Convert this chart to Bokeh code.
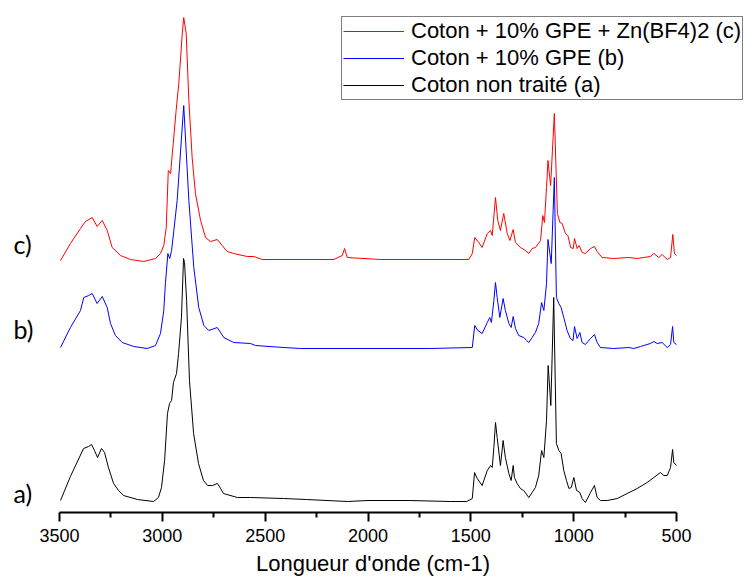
from bokeh.plotting import figure
from bokeh.models import Range1d, FixedTicker, Legend, LegendItem, Label
from bokeh.embed import file_html
from bokeh.resources import INLINE

# ---------------- data (wavenumber cm-1, stacked intensity a.u.) ----------------
wn_a = [3495, 3447, 3383, 3359, 3344, 3330, 3315, 3296, 3281, 3262, 3237, 3213, 3189, 3121,
        3043, 3019, 3004, 2989, 2975, 2965, 2955, 2946, 2931, 2921, 2907, 2897, 2892, 2882,
        2868, 2848, 2824, 2800, 2780, 2756, 2732, 2717, 2703, 2635, 2571, 2411, 2300, 2200,
        2100, 2000, 1800, 1600, 1520,
        1493, 1482, 1469, 1445, 1420, 1404, 1396, 1388, 1380, 1372, 1356, 1343, 1332, 1315,
        1304, 1294, 1288, 1275, 1259, 1243, 1218, 1202, 1186, 1170, 1156, 1145, 1132, 1124,
        1111, 1097, 1084, 1072, 1061, 1048, 1035, 1023, 1012, 999, 986, 970, 959, 943, 918,
        899, 886, 870, 837, 788, 740, 691, 643, 610, 578, 562, 545, 529, 519, 513, 500]
int_a = [12, 36, 64, 66, 68, 62, 55, 64, 60, 45, 29, 22, 17, 13,
         11, 15, 25, 52, 99, 109, 112, 130, 139, 159, 195, 254, 250, 212,
         132, 79, 49, 32, 27, 27, 29, 24, 19, 15, 15, 14, 13, 12,
         11, 12, 12, 11, 11,
         14, 40, 34, 27, 42, 47, 45, 65, 90, 75, 47, 72, 55, 39,
         32, 47, 35, 29, 24, 22, 15, 20, 25, 37, 62, 55, 92, 147,
         107, 215, 69, 62, 59, 42, 32, 24, 25, 35, 22, 20, 14, 10, 20,
         27, 15, 12, 12, 14, 19, 24, 30, 35, 40, 37, 37, 45, 63, 50, 47]

wn_b = [3495, 3447, 3398, 3382, 3358, 3341, 3317, 3292, 3268, 3252, 3228, 3195, 3139, 3074,
        3033, 3009, 2993, 2985, 2973, 2964, 2955, 2944, 2928, 2896, 2871, 2847, 2823, 2798,
        2774, 2733, 2701, 2653, 2571, 2547, 2409, 2328, 2000, 1700,
        1493, 1481, 1466, 1445, 1420, 1408, 1400, 1388, 1380, 1372, 1359, 1343, 1332, 1315,
        1304, 1294, 1283, 1267, 1243, 1229, 1218, 1202, 1186, 1170, 1156, 1145, 1132, 1125,
        1109, 1094, 1084, 1072, 1061, 1048, 1032, 1016, 1003, 996, 983, 970, 959, 943, 918,
        899, 886, 870, 805, 732, 708, 675, 627, 610, 594, 570, 545, 529, 519, 513, 500]
int_b = [165, 185, 202, 215, 217, 219, 209, 216, 205, 189, 177, 170, 166, 164,
         167, 179, 202, 229, 259, 254, 262, 282, 312, 407, 312, 245, 205, 187,
         182, 185, 175, 170, 169, 167, 165, 164, 164, 164,
         165, 187, 182, 179, 190, 195, 190, 212, 230, 215, 195, 214, 202, 189,
         185, 196, 184, 177, 175, 172, 170, 175, 180, 189, 210, 202, 229, 273,
         249, 335, 215, 209, 205, 195, 182, 174, 172, 186, 174, 180, 170, 168, 174,
         178, 170, 165, 164, 165, 164, 166, 169, 171, 169, 170, 165, 168, 186, 170, 168]

wn_c = [3495, 3447, 3398, 3374, 3341, 3317, 3292, 3268, 3244, 3203, 3155, 3090, 3033, 3009,
        2993, 2981, 2971, 2960, 2947, 2933, 2920, 2903, 2896, 2884, 2871, 2855, 2839, 2814,
        2790, 2766, 2733, 2709, 2685, 2653, 2587, 2555, 2514, 2409, 2166, 2125, 2114, 2101,
        1939, 1700, 1510,
        1493, 1481, 1461, 1445, 1420, 1404, 1396, 1380, 1369, 1356, 1340, 1323, 1310, 1294,
        1283, 1259, 1234, 1218, 1202, 1186, 1161, 1150, 1142, 1132, 1125, 1112, 1094, 1079,
        1067, 1056, 1040, 1028, 1015, 1002, 996, 983, 973, 959, 943, 918, 899, 886, 862,
        805, 732, 691, 627, 610, 586, 570, 545, 529, 518, 510, 500]
int_c = [252, 269, 284, 291, 295, 286, 292, 282, 265, 257, 253, 251, 254, 259,
         267, 285, 342, 339, 369, 402, 429, 479, 495, 479, 412, 355, 319, 292,
         275, 271, 273, 267, 261, 259, 256, 256, 253, 253, 253, 257, 264, 255,
         253, 253, 253,
         259, 275, 270, 265, 279, 282, 277, 315, 292, 282, 299, 279, 272, 283,
         270, 265, 262, 259, 264, 265, 272, 297, 290, 325, 352, 327, 399, 299,
         290, 289, 279, 277, 265, 264, 274, 264, 267, 260, 259, 264, 266, 261, 255,
         254, 255, 254, 256, 259, 255, 258, 253, 255, 278, 259, 257]

x_major = [3500, 3000, 2500, 2000, 1500, 1000, 500]
x_minor = [3250, 2750, 2250, 1750, 1250, 750]

series_names = ["Coton + 10% GPE + Zn(BF4)2 (c)", "Coton + 10% GPE (b)", "Coton non traité (a)"]
series_colors = ["#ff0000", "#0000ff", "#000000"]
curve_tags = ["c)", "b)", "a)"]
tag_y = [269, 184, 20]

# ---------------- layout ----------------
W, H = 745, 579
axis_left_px, axis_right_px = 59, 676          # where 3500 and 500 sit on screen
per_px = (x_major[0] - x_major[-1]) / (axis_right_px - axis_left_px)
x_start = x_major[0] + axis_left_px * per_px
x_end = x_major[-1] - (W - axis_right_px) * per_px

p = figure(width=W, height=H, output_backend="svg", toolbar_location=None,
           x_range=Range1d(x_start, x_end), y_range=Range1d(0, 512),
           min_border_left=0, min_border_right=0, min_border_top=0, min_border_bottom=67)
p.outline_line_color = None
p.xgrid.visible = False
p.ygrid.visible = False
p.yaxis.visible = False
p.background_fill_color = "white"
p.border_fill_color = "white"

ax = p.xaxis[0]
ax.bounds = (x_major[-1], x_major[0])
ax.ticker = FixedTicker(ticks=x_major, minor_ticks=x_minor)
ax.axis_line_width = 2
ax.axis_line_color = "black"
ax.major_tick_line_width = 2
ax.minor_tick_line_width = 2
ax.major_tick_in = 0
ax.major_tick_out = 9
ax.minor_tick_in = 0
ax.minor_tick_out = 5
ax.major_label_standoff = 7
ax.major_label_text_font = "Liberation Sans"
ax.major_label_text_font_size = "18px"
ax.major_label_text_color = "black"
ax.axis_label = "Longueur d'onde (cm-1)"
ax.axis_label_text_font = "Liberation Sans"
ax.axis_label_text_font_size = "22px"
ax.axis_label_text_font_style = "normal"
ax.axis_label_text_color = "black"
ax.axis_label_standoff = 6

r_c = p.line(wn_c, int_c, line_color=series_colors[0], line_width=1)
r_b = p.line(wn_b, int_b, line_color=series_colors[1], line_width=1)
r_a = p.line(wn_a, int_a, line_color=series_colors[2], line_width=1)

legend = Legend(items=[LegendItem(label=series_names[0], renderers=[r_c]),
                       LegendItem(label=series_names[1], renderers=[r_b]),
                       LegendItem(label=series_names[2], renderers=[r_a])],
                location=(341, 412))
legend.border_line_color = "black"
legend.border_line_width = 1.5
legend.background_fill_color = "white"
legend.background_fill_alpha = 1
legend.label_text_font = "Liberation Sans"
legend.label_text_font_size = "22px"
legend.label_text_color = "black"
legend.glyph_width = 61
legend.glyph_height = 26
legend.label_height = 26
legend.label_standoff = 7
legend.padding = 1
legend.spacing = 1
legend.margin = 0
p.add_layout(legend, "center")

for t, yy in zip(curve_tags, tag_y):
    p.add_layout(Label(x=3724, y=yy, text=t, text_font="Lato", text_font_size="25px",
                       text_align="left", text_baseline="middle", text_color="black"))

open("out.html", "w").write(file_html(p, INLINE))
